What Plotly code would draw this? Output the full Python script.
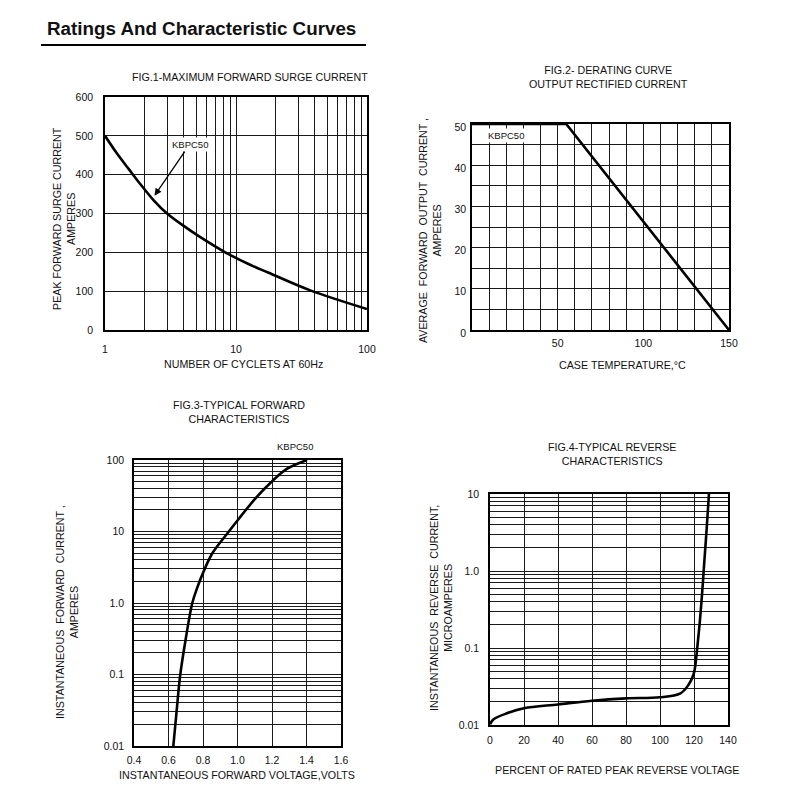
import plotly.graph_objects as go

# Fig.1 - maximum forward surge current
surge_cycles = [1, 1.231, 1.514, 1.838, 2.353, 2.976, 4.191, 5.234, 8.28, 12.8, 17.59, 36.9, 100]
surge_amps = [500, 455, 415, 378, 334, 300, 263, 241, 200, 168, 148, 102, 54]

# Fig.2 - derating curve
derate_temp = [0, 55, 150]
derate_amps = [50, 50, 0]

# Fig.3 - typical forward characteristics
fwd_volts = [0.628, 0.648, 0.667, 0.696, 0.738, 0.765, 0.81, 0.855, 0.95, 1.002, 1.112, 1.201, 1.286, 1.403]
fwd_amps = [0.01, 0.0325, 0.0946, 0.276, 1.0, 1.6, 3.0, 5.0, 10, 14.5, 30.5, 50.5, 75, 100]

# Fig.4 - typical reverse characteristics
rev_pct = [0, 2, 10, 20, 40, 60, 80, 100, 112, 116.7, 119.6, 120.5, 121.9, 123.5, 124.9, 126, 127.4, 128.8]
rev_ua = [0.0102, 0.0118, 0.0142, 0.0165, 0.0185, 0.0207, 0.0222, 0.0229, 0.0258, 0.033, 0.0446, 0.054,
          0.1, 0.23, 0.56, 1.26, 3.4, 10]

FONT = "Liberation Sans, Arial, sans-serif"
PAGE_OFFSET = 8  # the page body margin moves the figure by 8px


def log_ticks(first_exp, last_exp):
    vals = []
    for e in range(first_exp, last_exp):
        for d in range(1, 10):
            vals.append(round(d * 10 ** e, 6))
    vals.append(10 ** last_exp)
    return vals


def log_text(vals, labels):
    return [labels.get(v, "") for v in vals]


def px_x(p):
    return (p - PAGE_OFFSET) / 800


def px_y(p):
    return 1 - (p - PAGE_OFFSET) / 800


def axis_style(**kw):
    base = dict(
        showline=True, mirror=True, linecolor="black", linewidth=1.6,
        showgrid=True, gridcolor="#1a1a1a", gridwidth=1.3,
        zeroline=False, ticks="", automargin=False,
        tickfont=dict(size=10.5, color="#111", family=FONT),
    )
    base.update(kw)
    return base


fig = go.Figure()

fig.add_trace(go.Scatter(x=surge_cycles, y=surge_amps, mode="lines", line_shape="spline",
                         line=dict(color="black", width=2.6), xaxis="x", yaxis="y"))
fig.add_trace(go.Scatter(x=derate_temp, y=derate_amps, mode="lines",
                         line=dict(color="black", width=2.6), xaxis="x2", yaxis="y2"))
fig.add_trace(go.Scatter(x=fwd_volts, y=fwd_amps, mode="lines", line_shape="spline",
                         line=dict(color="black", width=2.6), xaxis="x3", yaxis="y3"))
fig.add_trace(go.Scatter(x=rev_pct, y=rev_ua, mode="lines", line_shape="spline",
                         line=dict(color="black", width=2.6), xaxis="x4", yaxis="y4"))

x1_vals = log_ticks(0, 2)
y3_vals = log_ticks(-2, 2)
y4_vals = log_ticks(-2, 1)

fig.update_layout(
    width=800, height=800,
    margin=dict(l=0, r=0, t=0, b=0, autoexpand=False),
    paper_bgcolor="white", plot_bgcolor="white",
    showlegend=False,
    font=dict(family=FONT, color="#111"),
    xaxis=axis_style(domain=[px_x(105), px_x(367)], anchor="y", type="log", range=[0, 2],
                     tickmode="array", tickvals=x1_vals,
                     ticktext=log_text(x1_vals, {1: "1", 10: "10", 100: "100"}),
                     ticklabelstandoff=9),
    yaxis=axis_style(domain=[px_y(330), px_y(97)], anchor="x", range=[0, 600],
                     tickmode="array", tickvals=[0, 100, 200, 300, 400, 500, 600],
                     ticklabelstandoff=8),
    xaxis2=axis_style(domain=[px_x(472), px_x(729)], anchor="y2", range=[0, 150],
                      tickmode="array", tickvals=list(range(0, 151, 10)),
                      ticktext=["", "", "", "", "", "50", "", "", "", "", "100", "", "", "", "", "150"],
                      ticklabelstandoff=3),
    yaxis2=axis_style(domain=[px_y(330), px_y(124)], anchor="x2", range=[0, 50],
                      tickmode="array", tickvals=list(range(0, 51, 5)),
                      ticktext=["0", "", "10", "", "20", "", "30", "", "40", "", "50"],
                      ticklabelstandoff=2, ticklabelshift=3),
    xaxis3=axis_style(domain=[px_x(134), px_x(341)], anchor="y3", range=[0.4, 1.6],
                      tickmode="array", tickvals=[0.4, 0.6, 0.8, 1.0, 1.2, 1.4, 1.6],
                      ticktext=["0.4", "0.6", "0.8", "1.0", "1.2", "1.4", "1.6"],
                      ticklabelstandoff=4),
    yaxis3=axis_style(domain=[px_y(746), px_y(460)], anchor="x3", type="log", range=[-2, 2],
                      tickmode="array", tickvals=y3_vals,
                      ticktext=log_text(y3_vals, {0.01: "0.01", 0.1: "0.1", 1: "1.0", 10: "10", 100: "100"}),
                      ticklabelstandoff=6),
    xaxis4=axis_style(domain=[px_x(490), px_x(728)], anchor="y4", range=[0, 140],
                      tickmode="array", tickvals=list(range(0, 141, 20)),
                      ticklabelstandoff=5),
    yaxis4=axis_style(domain=[px_y(725), px_y(494)], anchor="x4", type="log", range=[-2, 1],
                      tickmode="array", tickvals=y4_vals,
                      ticktext=log_text(y4_vals, {0.01: "0.01", 0.1: "0.1", 1: "1.0", 10: "10"}),
                      ticklabelstandoff=7),
)

ann = []


def text(x, y, s, size=10.7, angle=0, **kw):
    d = dict(x=px_x(x), y=px_y(y), xref="paper", yref="paper", text=s, showarrow=False,
             textangle=angle, font=dict(size=size, family=FONT, color="#111"),
             xanchor="center", yanchor="middle")
    d.update(kw)
    ann.append(d)


text(201, 29, "<b>Ratings And Characteristic Curves</b>", size=18.8)

# Fig.1
text(250, 77, "FIG.1-MAXIMUM FORWARD SURGE CURRENT")
text(64, 219, "PEAK FORWARD SURGE CURRENT<br>AMPERES", angle=-90)
text(243, 364, "NUMBER OF CYCLETS AT 60Hz")

# Fig.2
text(608, 77, "FIG.2- DERATING CURVE<br>OUTPUT RECTIFIED CURRENT")
text(430, 231, "AVERAGE  FORWARD  OUTPUT  CURRENT ,<br>AMPERES", angle=-90)
text(622, 365, "CASE TEMPERATURE,°C")

# Fig.3
text(239, 412, "FIG.3-TYPICAL FORWARD<br>CHARACTERISTICS")
text(67, 612, "INSTANTANEOUS  FORWARD  CURRENT ,<br>AMPERES", angle=-90)
text(237, 775, "INSTANTANEOUS FORWARD VOLTAGE,VOLTS")
text(295, 447, "KBPC50", size=9.5)

# Fig.4
text(612, 454, "FIG.4-TYPICAL REVERSE<br>CHARACTERISTICS")
text(441, 608, "INSTANTANEOUS  REVERSE  CURRENT,<br>MICROAMPERES", angle=-90)
text(617, 770, "PERCENT OF RATED PEAK REVERSE VOLTAGE")

# KBPC50 labels inside the plots
ann.append(dict(x=0.378, y=346, xref="x", yref="y", text="KBPC50", showarrow=True,
                arrowhead=2, arrowsize=1.1, arrowwidth=1.3, arrowcolor="black",
                ax=35, ay=-51, bgcolor="white", font=dict(size=9.5, family=FONT, color="#111")))
ann.append(dict(x=20, y=47.2, xref="x2", yref="y2", text="KBPC50", showarrow=False,
                bgcolor="white", font=dict(size=9.5, family=FONT, color="#111")))

fig.update_layout(annotations=ann)

# underline under the main title
fig.add_shape(type="line", xref="paper", yref="paper", x0=px_x(41), x1=px_x(366),
              y0=px_y(45), y1=px_y(45), line=dict(color="black", width=2.2))

fig.write_html("out.html")
